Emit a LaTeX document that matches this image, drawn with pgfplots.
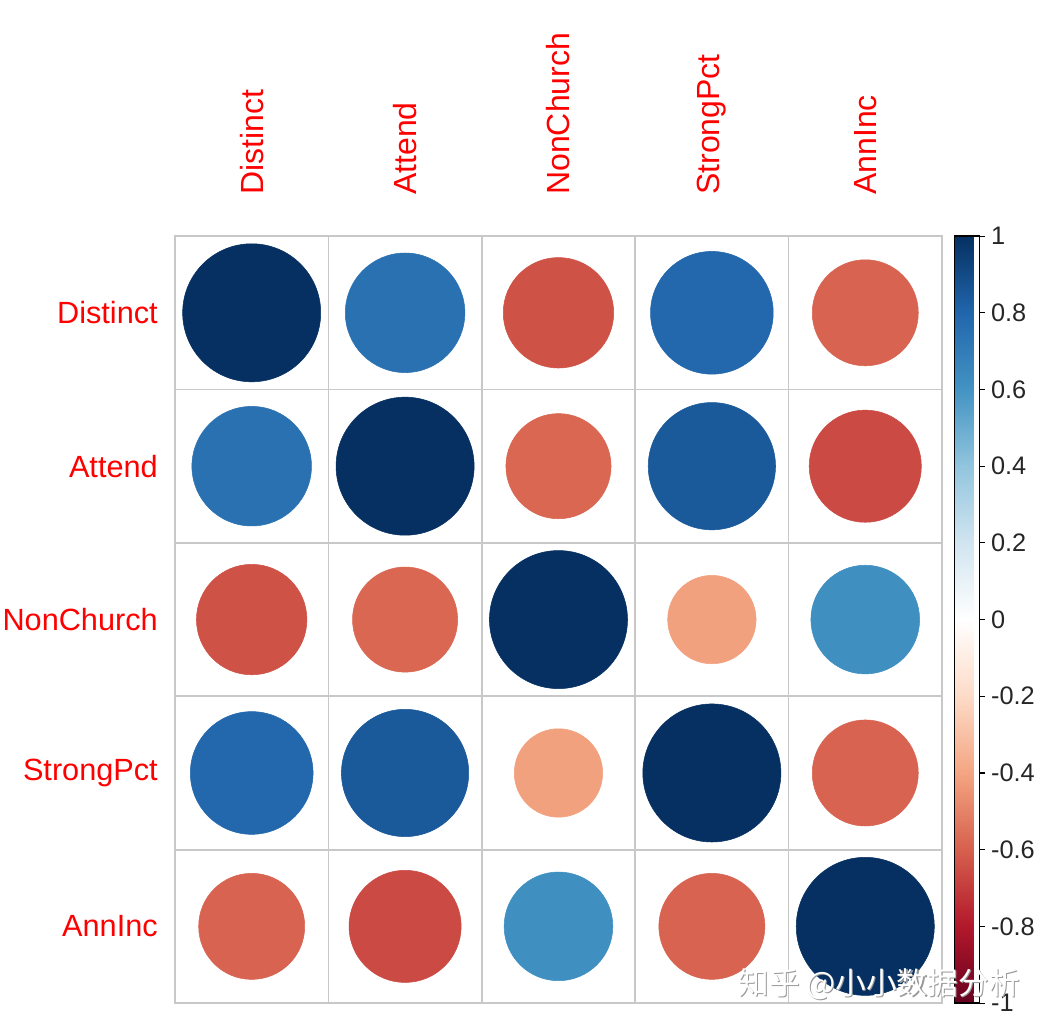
\documentclass[border=0pt]{standalone}
\usepackage{pgfplots}
\pgfplotsset{compat=1.18}
\usepackage{fontspec}
\setmainfont{Liberation Sans}
\newfontfamily\cjk{Noto Sans CJK SC}
\definecolor{lab}{RGB}{255,0,0}
\definecolor{gridc}{RGB}{200,200,200}
\pgfplotstableread{
x y r
1 1 1
2 1 0.75
3 1 -0.64
4 1 0.79
5 1 -0.59
1 2 0.75
2 2 1
3 2 -0.58
4 2 0.85
5 2 -0.66
1 3 -0.64
2 3 -0.58
3 3 1
4 3 -0.41
5 3 0.62
1 4 0.79
2 4 0.85
3 4 -0.41
4 4 1
5 4 -0.59
1 5 -0.59
2 5 -0.66
3 5 0.62
4 5 -0.59
5 5 1
}\corrdata
\begin{document}
\begin{tikzpicture}
\begin{axis}[name=main, scale only axis, width=575pt, height=575pt,
  xmin=0.5, xmax=5.5, ymin=0.5, ymax=5.5, y dir=reverse,
  xtick={0.5,1.5,2.5,3.5,4.5,5.5}, ytick={0.5,1.5,2.5,3.5,4.5,5.5},
  xticklabels={}, yticklabels={},
  major tick length=0pt,
  grid=major, major grid style={gridc, line width=1.3pt},
  axis line style={gridc, line width=1.3pt},
  clip=false,
  colormap={rdbu}{rgb255=(103,0,31) rgb255=(178,24,43) rgb255=(214,96,77) rgb255=(244,165,130) rgb255=(253,219,199) rgb255=(255,255,255) rgb255=(209,229,240) rgb255=(146,197,222) rgb255=(67,147,195) rgb255=(33,102,172) rgb255=(5,48,97)},
  point meta min=-1, point meta max=1,
  colorbar,
  colorbar style={at={(parent axis.north east)}, anchor=north west, xshift=0.75pt,
    width=19pt, height=575pt, grid=none, xtick=\empty,
    ytick={-1,-0.8,-0.6,-0.4,-0.2,0,0.2,0.4,0.6,0.8,1},
    yticklabels={-1,-0.8,-0.6,-0.4,-0.2,0,0.2,0.4,0.6,0.8,1},
    ytick pos=right, tick align=outside, major tick length=4pt,
    tick style={black, line width=0.8pt},
    axis line style={black, line width=1pt},
    yticklabel style={font=\fontsize{19}{22}\selectfont, text=black!85, xshift=1pt}},
]
\addplot[scatter, only marks, mark=*, point meta=explicit,
  scatter/use mapped color={draw=mapped color, fill=mapped color},
  visualization depends on={0.45*115*sqrt(abs(\thisrow{r})) \as \msize},
  scatter/@pre marker code/.append style={/tikz/mark size=\msize}]
  table[x=x, y=y, meta=r]{\corrdata};
\tikzset{toplab/.style={rotate=90, anchor=west, inner sep=0pt, text=lab, font=\fontsize{24}{28}\selectfont},
  leftlab/.style={anchor=east, inner sep=0pt, text=lab, font=\fontsize{23}{27}\selectfont}}
\node[toplab] at ([yshift=30.75pt]axis cs:1,0.5) {Distinct};
\node[toplab] at ([yshift=30.75pt]axis cs:2,0.5) {Attend};
\node[toplab] at ([yshift=30.75pt]axis cs:3,0.5) {NonChurch};
\node[toplab] at ([yshift=30.75pt]axis cs:4,0.5) {StrongPct};
\node[toplab] at ([yshift=30.75pt]axis cs:5,0.5) {AnnInc};
\node[leftlab] at ([xshift=-12.75pt]axis cs:0.5,1) {Distinct};
\node[leftlab] at ([xshift=-12.75pt]axis cs:0.5,2) {Attend};
\node[leftlab] at ([xshift=-12.75pt]axis cs:0.5,3) {NonChurch};
\node[leftlab] at ([xshift=-12.75pt]axis cs:0.5,4) {StrongPct};
\node[leftlab] at ([xshift=-12.75pt]axis cs:0.5,5) {AnnInc};
\coordinate (wm) at (axis cs:5.09,5.38);
\end{axis}
\node[text=black!40, font=\cjk\fontsize{23}{27}\selectfont] at ([xshift=0.8pt,yshift=-0.8pt]wm) {知乎 @小小数据分析};
\node[text=white, font=\cjk\fontsize{23}{27}\selectfont] at (wm) {知乎 @小小数据分析};
\path ([xshift=-131.2pt, yshift=177pt]main.north west) rectangle ([xshift=79.5pt, yshift=-18.75pt]main.south east);
\end{tikzpicture}
\end{document}
